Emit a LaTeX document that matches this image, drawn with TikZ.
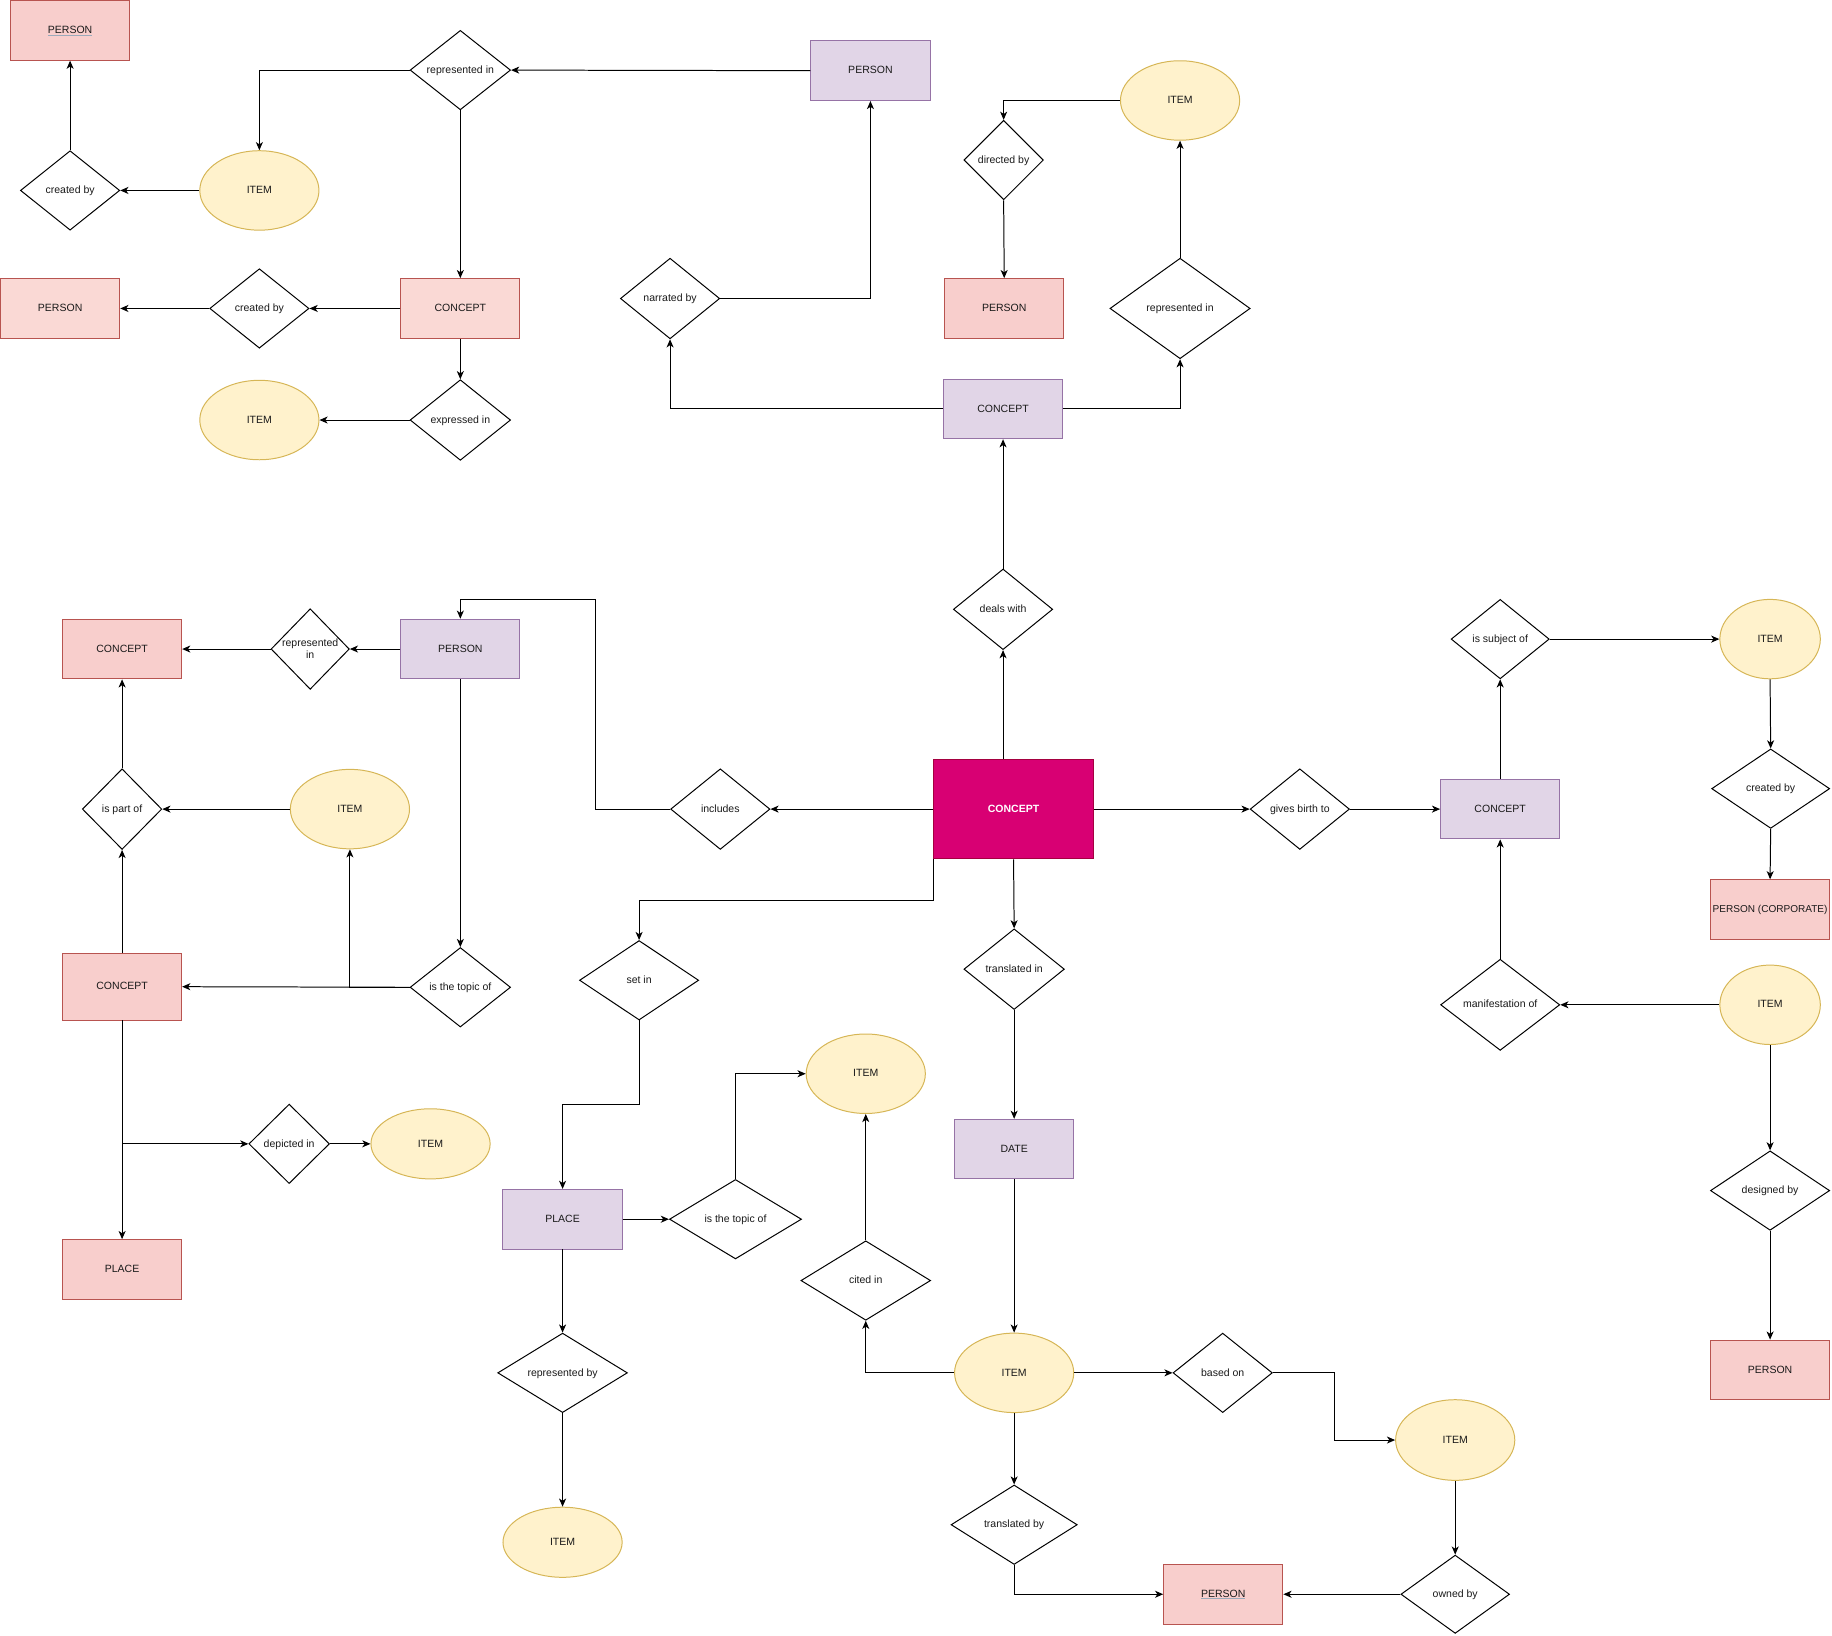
\documentclass[tikz,border=0pt]{standalone}
\usepackage{fontspec}
\setmainfont{Liberation Sans}
\usetikzlibrary{shapes.geometric,arrows.meta}
\definecolor{redF}{HTML}{F8CECC}
\definecolor{redL}{HTML}{FAD9D5}
\definecolor{redS}{HTML}{B85450}
\definecolor{purF}{HTML}{E1D5E7}
\definecolor{purS}{HTML}{9673A6}
\definecolor{yelF}{HTML}{FFF2CC}
\definecolor{yelS}{HTML}{D6B656}
\definecolor{magF}{HTML}{D80073}
\definecolor{magS}{HTML}{A50040}
\definecolor{ulcol}{HTML}{9AAABB}
\definecolor{txt}{HTML}{1A1A1A}
\tikzset{
  base/.style={inner sep=0pt, line width=0.85pt, font=\fontsize{9}{10.5}\selectfont, text=txt, text height=6.4pt, text depth=1pt},
  redbox/.style={base, rectangle, draw=redS, fill=redF, minimum width=102pt, minimum height=51pt},
  redboxL/.style={redbox, fill=redL},
  purbox/.style={base, rectangle, draw=purS, fill=purF, minimum width=102pt, minimum height=51pt},
  mainbox/.style={base, rectangle, draw=magS, fill=magF, minimum width=137pt, minimum height=85pt, text=white, font=\fontsize{9}{10.5}\selectfont\bfseries},
  itm/.style={base, ellipse, draw=yelS, fill=yelF, minimum width=102pt, minimum height=68pt},
  rel/.style 2 args={base, diamond, aspect=1.5, draw=black, fill=white, minimum width=#1, minimum height=#2},
  arr/.style={-{Stealth[length=7pt,width=6pt,inset=2pt]}, line width=0.85pt, black},
  ul/.style={ulcol, line width=0.8pt}
}
\begin{document}
\begin{tikzpicture}[x=1pt,y=-1pt]
\useasboundingbox (0,0) rectangle (1568,1400);
% ---------- top-left ----------
\node[redbox] (P1) at (60,26) {PERSON};
\node[rel={86pt}{68pt}] (D1) at (394,60) {represented in};
\node[purbox] (PU1) at (745,60.5) {PERSON};
\node[itm] (E1) at (222,163) {ITEM};
\node[rel={85pt}{68pt}] (D2) at (60,163) {created by};
\node[redboxL] (P2) at (51.5,264) {PERSON};
\node[rel={85pt}{68pt}] (D3) at (222,264) {created by};
\node[redboxL] (C1) at (394,264) {CONCEPT};
\node[rel={86pt}{69pt}] (D4) at (394,359.5) {expressed in};
\node[itm] (E2) at (222,359.5) {ITEM};
% ---------- top-middle ----------
\node[rel={85pt}{69pt}] (D5) at (573.5,255.5) {narrated by};
\node[purbox] (C2) at (858.5,350) {CONCEPT};
\node[rel={68pt}{68pt}] (D6) at (859,137) {directed by};
\node[itm] (E3) at (1010,86) {ITEM};
\node[redbox] (P3) at (859.5,264) {PERSON};
\node[rel={120pt}{86pt}] (D7) at (1010,264) {represented in};
\node[rel={85pt}{69pt}] (D8) at (858.5,521.5) {deals with};
% ---------- main ----------
\node[mainbox] (MC) at (867.5,692.5) {CONCEPT};
% ---------- left-middle ----------
\node[redbox] (C3) at (104.5,555.5) {CONCEPT};
\node[rel={67pt}{69pt}, aspect=1, align=center, text height=16.9pt, text depth=1pt] (D9) at (265.5,555.5) {represented\\in};
\node[purbox] (PU2) at (394,555.5) {PERSON};
\node[rel={68pt}{69pt}] (D10) at (104.5,692.5) {is part of};
\node[itm] (E4) at (299.5,692.5) {ITEM};
\node[redbox, minimum height=57pt] (C4) at (104.5,844.5) {CONCEPT};
\node[rel={86pt}{68pt}] (D11) at (394,845) {is the topic of};
\node[rel={69pt}{68pt}] (D12) at (247.5,979) {depicted in};
\node[itm, minimum height=60pt] (E5) at (368.5,979) {ITEM};
\node[redbox] (PL1) at (104.5,1086.5) {PLACE};
\node[rel={85pt}{69pt}] (D13) at (616.5,692.5) {includes};
% ---------- middle-bottom ----------
\node[rel={102pt}{68pt}] (D14) at (547,839) {set in};
\node[purbox] (PL2) at (481.5,1043.5) {PLACE};
\node[rel={113pt}{68pt}] (D15) at (629.5,1043.5) {is the topic of};
\node[itm] (E6) at (741,919) {ITEM};
\node[rel={111pt}{68pt}] (D16) at (741,1096) {cited in};
\node[rel={111pt}{68pt}] (D17) at (481.5,1175) {represented by};
\node[itm, minimum height=60pt] (E7) at (481.5,1320) {ITEM};
\node[rel={86pt}{69pt}] (D18) at (868,829.5) {translated in};
\node[purbox] (DT) at (868,983.5) {DATE};
\node[itm] (E8) at (868,1175) {ITEM};
\node[rel={85pt}{68pt}] (D19) at (1046.5,1175) {based on};
\node[itm, minimum height=69pt] (E9) at (1245.5,1232.5) {ITEM};
\node[rel={108pt}{68pt}] (D20) at (868,1305) {translated by};
\node[redbox] (P4) at (1047,1364.5) {PERSON};
\node[rel={93pt}{67pt}] (D21) at (1245.5,1364.5) {owned by};
% ---------- right ----------
\node[rel={85pt}{69pt}] (D22) at (1112.5,692.5) {gives birth to};
\node[purbox] (C5) at (1284,692.5) {CONCEPT};
\node[rel={84pt}{68pt}] (D23) at (1284,547) {is subject of};
\node[itm, minimum width=86pt] (E10) at (1515,547) {ITEM};
\node[rel={101pt}{68pt}] (D24) at (1515.5,675) {created by};
\node[redbox, font=\fontsize{8.6}{10}\selectfont] (P5) at (1515,778.5) {PERSON (CORPORATE)};
\node[itm, minimum width=86pt] (E11) at (1515,860) {ITEM};
\node[rel={102pt}{78pt}] (D25) at (1284,860) {manifestation of};
\node[rel={102pt}{68pt}] (D26) at (1515,1019) {designed by};
\node[redbox] (P6) at (1515,1172.5) {PERSON};
% underlines
\draw[ul] ([xshift=-19pt,yshift=-4pt]P1.center) -- ([xshift=19pt,yshift=-4pt]P1.center);
\draw[ul] ([xshift=-19pt,yshift=-4pt]P4.center) -- ([xshift=19pt,yshift=-4pt]P4.center);
% ---------- connectors ----------
\draw[arr] (PU1.west) -- (D1.east);
\draw[arr] (D1.west) -| (E1.north);
\draw[arr] (D1.south) -- (C1.north);
\draw[arr] (E1.west) -- (D2.east);
\draw[arr] (D2.north) -- (P1.south);
\draw[arr] (C1.west) -- (D3.east);
\draw[arr] (D3.west) -- (P2.east);
\draw[arr] (C1.south) -- (D4.north);
\draw[arr] (D4.west) -- (E2.east);
\draw[arr] (C2.west) -| (D5.south);
\draw[arr] (D5.east) -| (PU1.south);
\draw[arr] (E3.west) -| (D6.north);
\draw[arr] (D6.south) -- (P3.north);
\draw[arr] (C2.east) -| (D7.south);
\draw[arr] (D7.north) -- (E3.south);
\draw[arr] (D8.north) -- (C2.south);
\draw[arr] (MC.north -| D8.south) -- (D8.south);
\draw[arr] (MC.west) -- (D13.east);
\draw[arr] (D13.west) -- ++(-64,0) -- ++(0,-179.5) -| (PU2.north);
\draw[arr] (PU2.west) -- (D9.east);
\draw[arr] (D9.west) -- (C3.east);
\draw[arr] (PU2.south) -- (D11.north);
\draw[arr] (D11.west) -- (C4.east);
\draw[arr] (D11.west) -| (E4.south);
\draw[arr] (E4.west) -- (D10.east);
\draw[arr] (C4.north) -- (D10.south);
\draw[arr] (D10.north) -- (C3.south);
\draw[arr] (C4.south) -- (PL1.north);
\draw[arr] (C4.south) |- (D12.west);
\draw[arr] (D12.east) -- (E5.west);
\draw[arr] (MC.south west) -- ++(0,35) -| (D14.north);
\draw[arr] (D14.south) -- ++(0,72) -| (PL2.north);
\draw[arr] (PL2.east) -- (D15.west);
\draw[arr] (D15.north) |- (E6.west);
\draw[arr] (D16.north) -- (E6.south);
\draw[arr] (E8.west) -| (D16.south);
\draw[arr] (PL2.south) -- (D17.north);
\draw[arr] (D17.south) -- (E7.north);
\draw[arr] (MC.south) -- (D18.north);
\draw[arr] (D18.south) -- (DT.north);
\draw[arr] (DT.south) -- (E8.north);
\draw[arr] (E8.east) -- (D19.west);
\draw[arr] (D19.east) -- ++(53,0) |- (E9.west);
\draw[arr] (E8.south) -- (D20.north);
\draw[arr] (D20.south) |- (P4.west);
\draw[arr] (E9.south) -- (D21.north);
\draw[arr] (D21.west) -- (P4.east);
\draw[arr] (MC.east) -- (D22.west);
\draw[arr] (D22.east) -- (C5.west);
\draw[arr] (C5.north) -- (D23.south);
\draw[arr] (D23.east) -- (E10.west);
\draw[arr] (E10.south) -- (D24.north);
\draw[arr] (D24.south) -- (P5.north);
\draw[arr] (E11.west) -- (D25.east);
\draw[arr] (D25.north) -- (C5.south);
\draw[arr] (E11.south) -- (D26.north);
\draw[arr] (D26.south) -- (P6.north);
\end{tikzpicture}
\end{document}
